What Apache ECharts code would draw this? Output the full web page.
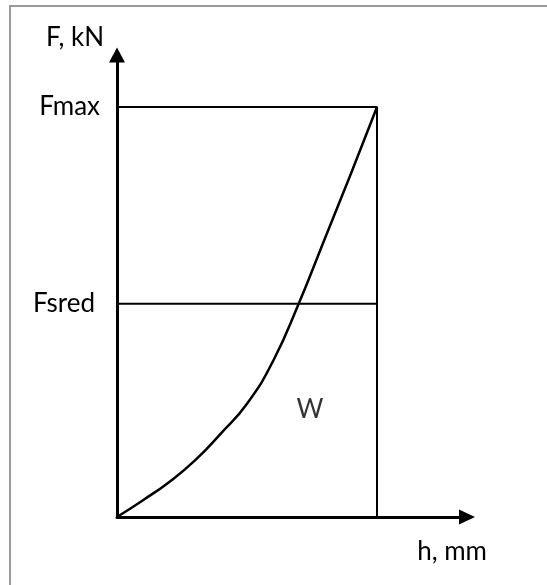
<!DOCTYPE html>
<html lang="en">
<head>
    <meta charset="UTF-8">
    <title>F - h</title>
    <script src="https://cdn.jsdelivr.net/npm/echarts/dist/echarts.min.js"></script>
    <style>
        html, body { margin: 0; padding: 0; background: #fff; }
        #chart-container { width: 547px; height: 585px; }
    </style>
</head>
<body>
    <div id="chart-container"></div>
    <script>
        // h and F in relative units (hMax = 1, Fmax = 1)
        var curveH = [0, 0.1, 0.2, 0.3, 0.4, 0.5, 0.6, 0.7, 0.8, 0.9, 1];
        var curveF = [0, 0.041, 0.085, 0.138, 0.204, 0.276, 0.38, 0.522, 0.68, 0.838, 1];
        var hMax = 1;
        var fMax = 1;
        var fSred = 0.52;
        var yLabels = ['Fsred', 'Fmax'];
        var areaLabel = 'W';
        var areaPos = [0.742, 0.263];

        var myChart = echarts.init(document.getElementById('chart-container'));
        var font = 'Lato';
        var fs = 26;

        var curveData = curveH.map(function (h, i) { return [h, curveF[i]]; });

        var option = {
            animation: false,
            textStyle: { fontFamily: font },
            graphic: [{
                type: 'rect',
                shape: { x: 10, y: 6, width: 600, height: 620 },
                style: { fill: null, stroke: '#9a9a9a', lineWidth: 2 },
                silent: true
            }],
            grid: { left: 117, top: 55, width: 350, height: 462 },
            xAxis: {
                type: 'value',
                min: 0,
                max: 350 / 260,
                name: 'h, mm',
                nameLocation: 'end',
                nameGap: 20,
                nameTextStyle: {
                    color: '#000', fontSize: fs, fontFamily: font,
                    align: 'right', verticalAlign: 'top', padding: [22, 0, 0, 0]
                },
                axisLine: {
                    lineStyle: { color: '#000', width: 3 },
                    symbol: ['none', 'triangle'],
                    symbolSize: [15, 16]
                },
                axisTick: { show: false },
                axisLabel: { show: false },
                splitLine: { show: false }
            },
            yAxis: {
                type: 'value',
                min: 0,
                max: 462 / 410,
                name: 'F, kN',
                nameLocation: 'end',
                nameGap: 17,
                nameTextStyle: {
                    color: '#000', fontSize: fs, fontFamily: font,
                    align: 'right', verticalAlign: 'middle', padding: [0, 13, 0, 0]
                },
                axisLine: {
                    show: true,
                    lineStyle: { color: '#000', width: 3 },
                    symbol: ['none', 'triangle'],
                    symbolSize: [16, 15]
                },
                axisTick: { show: false },
                splitLine: { show: false },
                axisLabel: {
                    customValues: [fSred, fMax],
                    margin: 17,
                    color: '#000',
                    fontSize: fs,
                    fontFamily: font,
                    formatter: function (v) {
                        return v === fSred ? '{s|' + yLabels[0] + '}' : yLabels[1];
                    },
                    rich: { s: { fontSize: fs, fontFamily: font, color: '#000', padding: [0, 5, 0, 0] } }
                }
            },
            series: [
                {
                    type: 'line',
                    data: [[0, fMax], [hMax, fMax], [hMax, 0]],
                    showSymbol: false,
                    lineStyle: { color: '#000', width: 2 },
                    silent: true
                },
                {
                    type: 'line',
                    data: [[0, fSred], [hMax, fSred]],
                    showSymbol: false,
                    lineStyle: { color: '#000', width: 2 },
                    silent: true
                },
                {
                    type: 'line',
                    data: curveData,
                    smooth: 0.5,
                    showSymbol: false,
                    lineStyle: { color: '#000', width: 2.5 },
                    silent: true
                },
                {
                    type: 'scatter',
                    data: [areaPos],
                    symbolSize: 0,
                    label: {
                        show: true,
                        position: 'inside',
                        formatter: areaLabel,
                        color: '#000',
                        fontSize: fs,
                        fontFamily: font
                    },
                    silent: true
                }
            ]
        };

        myChart.setOption(option);
    </script>
</body>
</html>
